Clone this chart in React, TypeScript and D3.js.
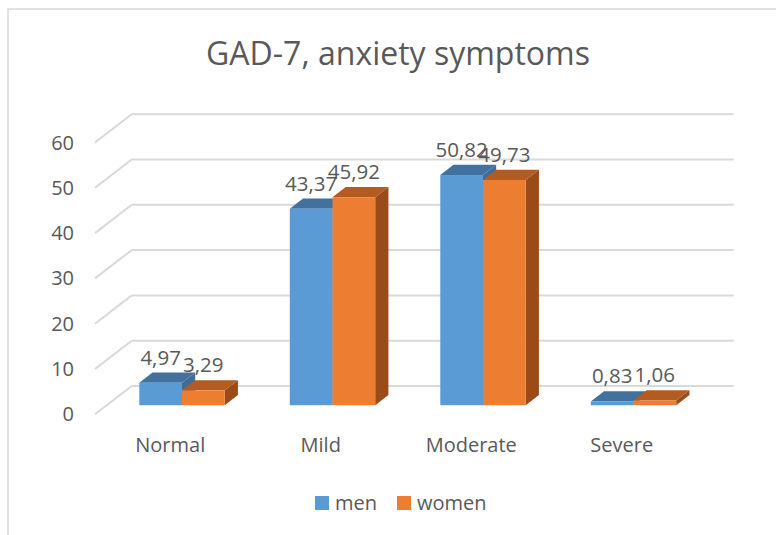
import React, { useEffect, useRef } from 'react';
import * as d3 from 'd3';

const categories = ['Normal', 'Mild', 'Moderate', 'Severe'];
const seriesNames = ['men', 'women'];
const men = [4.97, 43.37, 50.82, 0.83];
const women = [3.29, 45.92, 49.73, 1.06];
const yTicks = [0, 10, 20, 30, 40, 50, 60];

const fmt = (v: number) => v.toFixed(2).replace('.', ',');

const App = () => {
  const ref = useRef<SVGSVGElement>(null);

  const drawChart = () => {
    const svgWidth = 776,
      svgHeight = 535;
    const font = "'Open Sans', 'Liberation Sans', sans-serif";
    const textColor = '#595959';
    const gridColor = '#d9d9d9';
    // 3d depth of the plot box (front -> back)
    const depth = { dx: 36.7, dy: -28.3 };
    const barDepth = [0.32, 0.68];

    const svg = d3.select(ref.current).attr('width', svgWidth).attr('height', svgHeight);
    svg.selectAll('*').remove();

    svg
      .append('rect')
      .attr('x', 8)
      .attr('y', 9)
      .attr('width', 800)
      .attr('height', 600)
      .attr('fill', '#fff')
      .attr('stroke', gridColor)
      .attr('stroke-width', 1.5);

    svg
      .append('text')
      .attr('x', 398)
      .attr('y', 65)
      .attr('text-anchor', 'middle')
      .attr('font-family', font)
      .attr('font-size', 32)
      .attr('fill', textColor)
      .text('GAD-7, anxiety symptoms');

    // front plane scales
    const x = d3.scaleBand().domain(categories).range([95, 697]);
    const xs = d3
      .scaleBand()
      .domain(seriesNames)
      .range([0, x.bandwidth()])
      .paddingOuter(0.762);
    const y = d3.scaleLinear().domain([0, 60]).range([414.3, 142.5]);

    const g = svg.append('g');

    // gridlines: back wall + side wall diagonal
    yTicks.forEach((t) => {
      const yy = y(t);
      g.append('line')
        .attr('x1', 95 + depth.dx)
        .attr('x2', 697 + depth.dx)
        .attr('y1', yy + depth.dy)
        .attr('y2', yy + depth.dy)
        .attr('stroke', gridColor)
        .attr('stroke-width', 2);
      g.append('line')
        .attr('x1', 95)
        .attr('x2', 95 + depth.dx)
        .attr('y1', yy)
        .attr('y2', yy + depth.dy)
        .attr('stroke', gridColor)
        .attr('stroke-width', 2);
      g.append('text')
        .attr('x', 74)
        .attr('y', yy)
        .attr('dy', '0.35em')
        .attr('text-anchor', 'end')
        .attr('font-family', font)
        .attr('font-size', 20)
        .attr('fill', textColor)
        .text(t);
    });

    const colors = {
      men: { front: '#5b9bd5', top: '#41719c', side: '#3f6d97' },
      women: { front: '#ed7d31', top: '#b35b20', side: '#9a4b18' },
    };

    const bars: { cat: string; s: string; v: number }[] = [];
    categories.forEach((c, i) => {
      bars.push({ cat: c, s: 'men', v: men[i] });
      bars.push({ cat: c, s: 'women', v: women[i] });
    });

    const f0 = barDepth[0],
      f1 = barDepth[1];
    const ox = depth.dx * f0,
      oy = depth.dy * f0;
    const bx = depth.dx * (f1 - f0),
      by = depth.dy * (f1 - f0);

    bars.forEach((b) => {
      const x0 = (x(b.cat) as number) + (xs(b.s) as number) + ox;
      const x1 = x0 + xs.bandwidth();
      const yb = y(0) + oy;
      const yt = y(b.v) + oy;
      const col = colors[b.s as 'men' | 'women'];
      const poly = (pts: number[][]) => pts.map((p) => p.join(',')).join(' ');
      // right side
      g.append('polygon')
        .attr('points', poly([[x1, yt], [x1 + bx, yt + by], [x1 + bx, yb + by], [x1, yb]]))
        .attr('fill', col.side);
      // top
      g.append('polygon')
        .attr('points', poly([[x0, yt], [x1, yt], [x1 + bx, yt + by], [x0 + bx, yt + by]]))
        .attr('fill', col.top);
      // front
      g.append('rect')
        .attr('x', x0)
        .attr('y', yt)
        .attr('width', x1 - x0)
        .attr('height', yb - yt)
        .attr('fill', col.front);
    });

    // data labels
    bars.forEach((b) => {
      const cx = (x(b.cat) as number) + (xs(b.s) as number) + ox + xs.bandwidth() / 2;
      g.append('text')
        .attr('x', cx)
        .attr('y', y(b.v) + oy - 18)
        .attr('text-anchor', 'middle')
        .attr('font-family', font)
        .attr('font-size', 20.5)
        .attr('fill', textColor)
        .text(fmt(b.v));
    });

    // category labels
    categories.forEach((c) => {
      g.append('text')
        .attr('x', (x(c) as number) + x.bandwidth() / 2)
        .attr('y', 452)
        .attr('text-anchor', 'middle')
        .attr('font-family', font)
        .attr('font-size', 20)
        .attr('fill', textColor)
        .text(c);
    });

    // legend
    const legendX = [315, 397];
    seriesNames.forEach((s, i) => {
      g.append('rect')
        .attr('x', legendX[i])
        .attr('y', 496)
        .attr('width', 14)
        .attr('height', 14)
        .attr('fill', colors[s as 'men' | 'women'].front);
      g.append('text')
        .attr('x', legendX[i] + 20)
        .attr('y', 510)
        .attr('font-family', font)
        .attr('font-size', 20)
        .attr('fill', textColor)
        .text(s);
    });
  };

  useEffect(() => {
    drawChart();
  }, []);

  return (
    <svg
      ref={ref}
      style={{ position: 'absolute', left: 0, top: 0, display: 'block' }}
    ></svg>
  );
};

export default App;
